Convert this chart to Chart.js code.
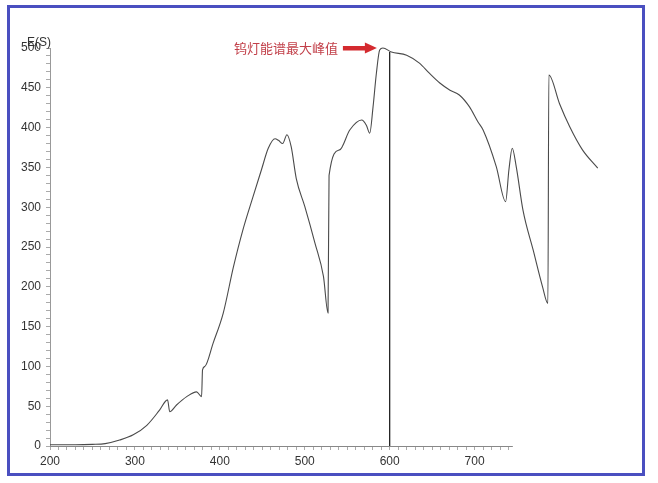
<!DOCTYPE html>
<html>
<head>
<meta charset="utf-8">
<script src="https://cdn.jsdelivr.net/npm/chart.js@4"></script>
<style>
  html, body { margin: 0; padding: 0; background: #fff; }
  #wrap { position: relative; width: 658px; height: 483px; }
  #frame {
    position: absolute; left: 7px; top: 5px; width: 632px; height: 465px;
    border: 3px solid #4a4fc0; pointer-events: none;
  }
</style>
</head>
<body>
<div id="wrap">
  <canvas id="chart" width="658" height="483"></canvas>
  <div id="frame"></div>
</div>
<script>
// wavelength (nm) and E(S)
const waveX = [200, 230, 250, 265, 282, 298, 314, 329, 338.4, 341, 349, 361, 372.6, 378.5, 379.6, 382.4, 392, 404, 416, 427, 439, 449, 457, 465, 469, 474, 479, 484, 490, 500, 512, 522, 527.4, 528.6, 541, 553, 567, 572.5, 576.5, 580.4, 584.3, 588.2, 592, 602, 620, 635, 647, 659, 671, 682, 694, 704, 710, 725.5, 736.5, 740.4, 744.3, 749, 757, 769, 780, 786.3, 787.4, 800, 812, 827, 845];
const energyY = [1.5, 1.5, 2, 3, 7.5, 14, 26, 45, 58, 43, 51.5, 62, 68, 62, 95.5, 100, 129, 167, 225, 271, 313, 347, 374, 386, 384, 380, 391, 376, 336, 301, 255, 213, 167, 340, 372, 397, 409.5, 403, 393, 426, 468, 497.5, 500, 495, 491, 481, 468, 456, 447, 441, 426, 407, 397, 351, 307, 347, 374, 351, 296, 246, 200, 179, 466, 430, 401, 372, 349];

const markerX = [600, 600];
const markerY = [0, 495];

const xLabels = [200, 300, 400, 500, 600, 700];
const peakX = 592;
const peakY = 500;
const note = "钨灯能谱最大峰值";

const spectrum = waveX.map((x, i) => ({ x, y: energyY[i] }));
const marker = markerX.map((x, i) => ({ x, y: markerY[i] }));

const FONT = "'Liberation Sans', Arial, sans-serif";

const extras = {
  id: "extras",
  afterDraw(chart) {
    const { ctx, scales: { x, y } } = chart;
    ctx.save();
    // x axis line, only as far as the visible ticks
    ctx.strokeStyle = "#888";
    ctx.lineWidth = 1;
    ctx.beginPath();
    ctx.moveTo(x.getPixelForValue(200), y.getPixelForValue(0) + 0.5);
    ctx.lineTo(x.getPixelForValue(745), y.getPixelForValue(0) + 0.5);
    ctx.stroke();

    // y axis title
    ctx.fillStyle = "#333";
    ctx.font = "12px " + FONT;
    ctx.textAlign = "left";
    ctx.textBaseline = "alphabetic";
    ctx.fillText("E(S)", x.left - 23, y.top - 2);

    // arrow + note
    const tipX = x.getPixelForValue(peakX) - 6;
    const ay = y.getPixelForValue(peakY);
    const tailX = tipX - 34;
    ctx.fillStyle = "#d42a2f";
    ctx.fillRect(tailX, ay - 2, 24, 4.5);
    ctx.beginPath();
    ctx.moveTo(tipX, ay);
    ctx.lineTo(tipX - 12, ay - 5.5);
    ctx.lineTo(tipX - 12, ay + 5.5);
    ctx.closePath();
    ctx.fill();

    ctx.fillStyle = "#c2404a";
    ctx.font = "13px 'Noto Sans CJK SC', sans-serif";
    ctx.textAlign = "right";
    ctx.textBaseline = "middle";
    ctx.fillText(note, tailX - 5, ay);
    ctx.restore();
  }
};

new Chart(document.getElementById("chart"), {
  type: "line",
  data: {
    datasets: [
      {
        data: spectrum,
        borderColor: "#4a4a4a",
        borderWidth: 1.1,
        pointRadius: 0,
        cubicInterpolationMode: "monotone",
        fill: false
      },
      {
        data: marker,
        borderColor: "#111",
        borderWidth: 1.2,
        pointRadius: 0,
        tension: 0
      }
    ]
  },
  options: {
    responsive: false,
    animation: false,
    clip: false,
    layout: { padding: { left: 10, right: 56, top: 48, bottom: 11 } },
    plugins: { legend: { display: false }, tooltip: { enabled: false } },
    scales: {
      x: {
        type: "linear",
        min: 200,
        max: 850,
        afterBuildTicks: s => {
          const t = [];
          for (let v = 200; v <= 740; v += 10) t.push({ value: v });
          s.ticks = t;
        },
        afterFit: s => { s.height = 26; },
        border: { display: false },
        grid: { drawOnChartArea: false, tickLength: 4, color: "#aaa" },
        ticks: {
          autoSkip: false,
          maxRotation: 0,
          padding: 4,
          color: "#333",
          font: { family: FONT, size: 12 },
          callback: v => (xLabels.includes(v) ? v : "")
        }
      },
      y: {
        min: 0,
        max: 500,
        afterBuildTicks: s => {
          const t = [];
          for (let v = 0; v <= 500; v += 10) t.push({ value: v });
          s.ticks = t;
        },
        afterFit: s => { s.width = 40; },
        border: { display: true, color: "#999" },
        grid: { drawOnChartArea: false, tickLength: 4, color: "#aaa" },
        ticks: {
          autoSkip: false,
          padding: 5,
          color: "#333",
          font: { family: FONT, size: 12 },
          callback: v => (v % 50 === 0 ? v : "")
        }
      }
    }
  },
  plugins: [extras]
});
</script>
</body>
</html>
